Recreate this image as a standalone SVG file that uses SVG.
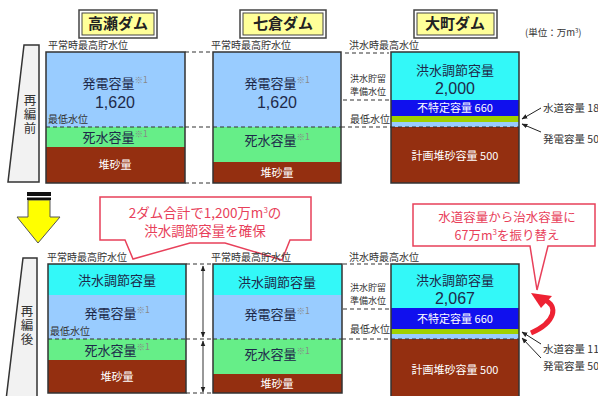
<svg xmlns="http://www.w3.org/2000/svg" width="598" height="396" viewBox="0 0 598 396">
<defs>
<style>
text{font-family:"Noto Sans CJK JP","Noto Sans",sans-serif;}
.lbl{font-size:10px;fill:#333;}
.lbl2{font-size:9px;fill:#333;}
.big{font-size:13px;fill:#1e2a4a;text-anchor:middle;}
.num{font-family:"Liberation Sans",Arial,sans-serif;font-size:16px;fill:#1e2a4a;text-anchor:middle;}
.wt{font-size:11px;fill:#fff;text-anchor:middle;}
.sup{font-size:8.5px;fill:#888;}
.ttl{font-size:15px;fill:#222;text-anchor:middle;font-weight:bold;}
.box{fill:none;stroke:#333;stroke-width:1.5;}
.dash{stroke:#333;stroke-width:1.2;stroke-dasharray:4 3;fill:none;}
.dam{fill:#f2f2f2;stroke:#333;stroke-width:1.5;}
.vt{font-size:12.5px;fill:#333;writing-mode:vertical-rl;letter-spacing:1.5px;}
.red{font-size:13.5px;fill:#e8405a;text-anchor:middle;}
.call{fill:#fff;stroke:#e8405a;stroke-width:1.5;}
.ptr{stroke:#222;stroke-width:1;fill:none;marker-end:url(#ah);}
.dbl{stroke:#333;stroke-width:1;fill:none;marker-start:url(#ah2);marker-end:url(#ah);}
</style>
<marker id="ah" viewBox="0 0 10 10" refX="9" refY="5" markerWidth="6" markerHeight="6" orient="auto"><path d="M0,1 L10,5 L0,9 Z" fill="#222"/></marker>
<marker id="ah2" viewBox="0 0 10 10" refX="1" refY="5" markerWidth="6" markerHeight="6" orient="auto"><path d="M10,1 L0,5 L10,9 Z" fill="#222"/></marker>
</defs>
<rect width="598" height="396" fill="#fff"/>

<!-- titles -->
<g id="title-takase"><rect x="79" y="10" width="78" height="28" fill="#fff" stroke="#444" stroke-width="1.5"/><rect x="82" y="13" width="72" height="22" fill="#ffff99" stroke="#444" stroke-width="1"/><text class="ttl" x="118" y="29">高瀬ダム</text></g>
<g id="title-nanakura"><rect x="240" y="10" width="86" height="28" fill="#fff" stroke="#444" stroke-width="1.5"/><rect x="243" y="13" width="80" height="22" fill="#ffff99" stroke="#444" stroke-width="1"/><text class="ttl" x="283" y="29">七倉ダム</text></g>
<g id="title-omachi"><rect x="414" y="10" width="83" height="28" fill="#fff" stroke="#444" stroke-width="1.5"/><rect x="417" y="13" width="77" height="22" fill="#ffff99" stroke="#444" stroke-width="1"/><text class="ttl" x="455" y="29">大町ダム</text></g>
<text class="lbl" x="525" y="36" style="font-size:9.5px">(単位：万m<tspan font-size="6" dy="-3">3</tspan><tspan dy="3">)</tspan></text>

<!-- before -->
<g id="dam-before"><polygon class="dam" points="24,45 39,45 39,182 8,182"/>
<text class="vt" x="30" y="94">再編前</text></g>

<g id="takase-before">
<rect x="46" y="52" width="139" height="75" fill="#99ccff"/>
<rect x="46" y="127" width="139" height="20" fill="#66ee88"/>
<rect x="46" y="147" width="139" height="36" fill="#942f10"/>
<line class="dash" x1="46" y1="127" x2="185" y2="127"/>
<rect class="box" x="46" y="52" width="139" height="131"/>
<text class="lbl" x="48" y="49">平常時最高貯水位</text>
<text class="lbl" x="48" y="123">最低水位</text>
<text class="big" x="115" y="88">発電容量<tspan class="sup" dy="-5">※1</tspan></text>
<text class="num" x="115" y="108">1,620</text>
<text class="big" x="115" y="142">死水容量<tspan class="sup" dy="-5">※1</tspan></text>
<text class="wt" x="115" y="169">堆砂量</text>
</g>

<g id="nanakura-before">
<rect x="213" y="52" width="128" height="75" fill="#99ccff"/>
<rect x="213" y="127" width="128" height="35" fill="#66ee88"/>
<rect x="213" y="162" width="128" height="21" fill="#942f10"/>
<line class="dash" x1="213" y1="127" x2="341" y2="127"/>
<rect class="box" x="213" y="52" width="128" height="131"/>
<text class="lbl" x="211" y="49">平常時最高貯水位</text>
<text class="big" x="277" y="88">発電容量<tspan class="sup" dy="-5">※1</tspan></text>
<text class="num" x="277" y="108">1,620</text>
<text class="big" x="277" y="145">死水容量<tspan class="sup" dy="-5">※1</tspan></text>
<text class="wt" x="277" y="177">堆砂量</text>
</g>

<g id="omachi-before">
<rect x="391" y="52" width="128" height="48" fill="#33f8f8"/>
<rect x="391" y="100" width="128" height="16" fill="#1010ee"/>
<rect x="391" y="116" width="128" height="6" fill="#a0d000"/>
<rect x="391" y="122" width="128" height="5" fill="#99ccff"/>
<rect x="391" y="127" width="128" height="56" fill="#942f10"/>
<line class="dash" x1="391" y1="127" x2="519" y2="127"/>
<rect class="box" x="391" y="52" width="128" height="131"/>
<text class="lbl" x="349" y="49">洪水時最高水位</text>
<text class="lbl2" x="350" y="82">洪水貯留<tspan x="350" dy="13.2">準備水位</tspan></text>
<text class="lbl" x="350" y="123">最低水位</text>
<text class="big" x="455" y="75">洪水調節容量</text>
<text class="num" x="455" y="94">2,000</text>
<text class="wt" x="455" y="112">不特定容量 660</text>
<text class="wt" x="455" y="160">計画堆砂容量 500</text>
<text class="lbl" x="543" y="112" style="font-size:10.5px">水道容量 18</text>
<text class="lbl" x="543" y="143" style="font-size:10.5px">発電容量 50</text>
</g>

<!-- arrow between -->
<g id="down-arrow">
<polygon points="28,200 50,200 50,217 60,217 38,243 17,217 28,217" fill="#ffff00" stroke="#555" stroke-width="1"/>
<rect x="27" y="192" width="24" height="4" fill="#111"/>
<rect x="27" y="197.5" width="24" height="2.5" fill="#111"/>
</g>

<g id="callout1">
<path class="call" d="M100,197 H311 V240 H290 L282,260 L225,243 H190 L133,259 L125,240 H100 Z"/>
<text class="red" x="205" y="218">2ダム合計で1,200万m<tspan font-size="8" dy="-5">3</tspan><tspan dy="5">の</tspan><tspan x="205" dy="18">洪水調節容量を確保</tspan></text>
</g>

<g id="callout2">
<path class="call" d="M413,204 H595 V246 H548 L537,290 L530,246 H413 Z"/>
<text class="red" x="507" y="222" style="font-size:12.5px">水道容量から治水容量に<tspan x="507" dy="18">67万m</tspan><tspan font-size="8" dy="-5">3</tspan><tspan dy="5">を振り替え</tspan></text>
</g>

<!-- after -->
<g id="dam-after"><polygon class="dam" points="23,258 37,258 37,400 6,400"/>
<text class="vt" x="27" y="305">再編後</text></g>

<g id="takase-after">
<rect x="48" y="264" width="138" height="31" fill="#33f8f8"/>
<rect x="48" y="295" width="138" height="44" fill="#99ccff"/>
<rect x="48" y="339" width="138" height="21" fill="#66ee88"/>
<rect x="48" y="360" width="138" height="33" fill="#942f10"/>
<line class="dash" x1="48" y1="339" x2="186" y2="339"/>
<rect class="box" x="48" y="264" width="138" height="129"/>
<text class="lbl" x="47" y="261">平常時最高貯水位</text>
<text class="lbl" x="50" y="335">最低水位</text>
<text class="big" x="117" y="285">洪水調節容量</text>
<text class="big" x="117" y="318">発電容量<tspan class="sup" dy="-5">※1</tspan></text>
<text class="big" x="117" y="355">死水容量<tspan class="sup" dy="-5">※1</tspan></text>
<text class="wt" x="117" y="381">堆砂量</text>
</g>

<g id="nanakura-after">
<rect x="213" y="264" width="129" height="31" fill="#33f8f8"/>
<rect x="213" y="295" width="129" height="44" fill="#99ccff"/>
<rect x="213" y="339" width="129" height="35" fill="#66ee88"/>
<rect x="213" y="374" width="129" height="19" fill="#942f10"/>
<line class="dash" x1="213" y1="339" x2="342" y2="339"/>
<rect class="box" x="213" y="264" width="129" height="129"/>
<text class="lbl" x="211" y="261">平常時最高貯水位</text>
<text class="big" x="277" y="287">洪水調節容量</text>
<text class="big" x="277" y="319">発電容量<tspan class="sup" dy="-5">※1</tspan></text>
<text class="big" x="277" y="359">死水容量<tspan class="sup" dy="-5">※1</tspan></text>
<text class="wt" x="277" y="388">堆砂量</text>
</g>

<g id="omachi-after">
<rect x="391" y="264" width="128" height="44" fill="#33f8f8"/>
<rect x="391" y="308" width="128" height="21" fill="#1010ee"/>
<rect x="391" y="329" width="128" height="5" fill="#a0d000"/>
<rect x="391" y="334" width="128" height="5" fill="#99ccff"/>
<rect x="391" y="339" width="128" height="60" fill="#942f10"/>
<line class="dash" x1="391" y1="339" x2="519" y2="339"/>
<rect class="box" x="391" y="264" width="128" height="140"/>
<text class="lbl" x="349" y="261">洪水時最高水位</text>
<text class="lbl2" x="350" y="291">洪水貯留<tspan x="350" dy="13.2">準備水位</tspan></text>
<text class="lbl" x="350" y="333">最低水位</text>
<text class="big" x="455" y="285">洪水調節容量</text>
<text class="num" x="455" y="304">2,067</text>
<text class="wt" x="455" y="323">不特定容量 660</text>
<text class="wt" x="455" y="374">計画堆砂容量 500</text>
<text class="lbl" x="543" y="353" style="font-size:10.5px">水道容量 11</text>
<text class="lbl" x="543" y="370" style="font-size:10.5px">発電容量 50</text>
<path d="M531,333 C556,322 558,306 545,300" stroke="#ee2233" stroke-width="5" fill="none"/>
<polygon points="531,293 552,296 541,308" fill="#ee2233"/>
</g>

<!-- connectors -->
<g id="connectors">
<line class="dash" x1="185" y1="52" x2="213" y2="52"/>
<line class="dash" x1="185" y1="127" x2="213" y2="127"/>
<line class="dash" x1="185" y1="183" x2="213" y2="183"/>
<line class="dash" x1="345" y1="53" x2="389" y2="53"/>
<line class="dash" x1="343" y1="100" x2="389" y2="100"/>
<line class="dash" x1="341" y1="127" x2="391" y2="127"/>
<line class="ptr" x1="541" y1="108" x2="522" y2="119"/>
<line class="ptr" x1="541" y1="132" x2="522" y2="124"/>

<line class="dash" x1="186" y1="264" x2="213" y2="264"/>
<line class="dash" x1="186" y1="339" x2="213" y2="339"/>
<line class="dash" x1="186" y1="393" x2="213" y2="393"/>
<line class="dbl" x1="203" y1="266" x2="203" y2="337"/>
<line class="dbl" x1="203" y1="341" x2="203" y2="392"/>
<line class="dash" x1="343" y1="264" x2="389" y2="264"/>
<line class="dash" x1="343" y1="309" x2="389" y2="309"/>
<line class="dash" x1="342" y1="339" x2="391" y2="339"/>
<line class="ptr" x1="541" y1="344" x2="522" y2="332"/>
<line class="ptr" x1="541" y1="358" x2="522" y2="338"/>
</g>
</svg>
